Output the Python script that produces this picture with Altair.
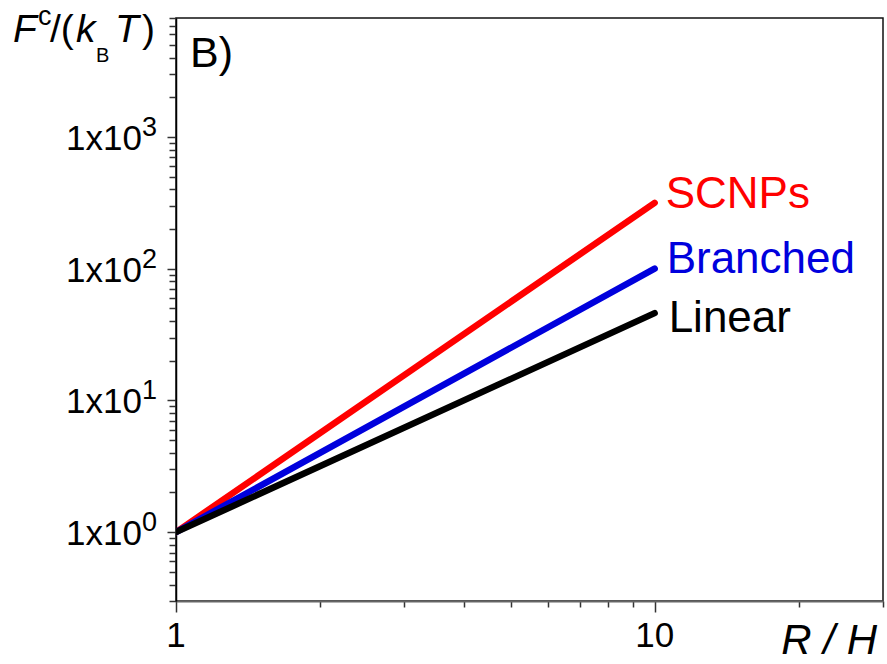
import altair as alt
import pandas as pd

FONT = "Liberation Sans"

# ---- data ----
x_vals = [1, 10]
scnps_vals = [1, 316]
branched_vals = [1, 100]
linear_vals = [1, 46]
series_names = ["SCNPs", "Branched", "Linear"]
series_colors = ["#ff0000", "#0000dd", "#000000"]

x_tick_vals = [1, 2, 3, 4, 5, 6, 7, 8, 9, 10, 20, 30]
x_label_vals = [1, 10]
x_label_text = ["1", "10"]

y_tick_vals = [0.3, 0.4, 0.5, 0.6, 0.7, 0.8, 0.9,
               1, 2, 3, 4, 5, 6, 7, 8, 9,
               10, 20, 30, 40, 50, 60, 70, 80, 90,
               100, 200, 300, 400, 500, 600, 700, 800, 900,
               1000, 2000, 3000, 4000, 5000, 6000, 7000, 8000]
y_label_vals = [1, 10, 100, 1000]
y_label_exp = ["0", "1", "2", "3"]

# ---- tables ----
rows = []
for name, vals in zip(series_names, [scnps_vals, branched_vals, linear_vals]):
    for xv, yv in zip(x_vals, vals):
        rows.append({"series": name, "x": xv, "y": yv})
df = pd.DataFrame(rows)

ylab_df = pd.DataFrame({"v": y_label_vals, "e": y_label_exp})
xlab_df = pd.DataFrame({"v": x_label_vals, "t": x_label_text})

x_scale = alt.Scale(type="log", domain=[1, 30], nice=False)
y_scale = alt.Scale(type="log", domain=[0.3, 8000], nice=False)

x_axis = alt.Axis(values=x_tick_vals, labels=False, title=None, grid=False,
                  tickColor="#333333", tickWidth=1.5,
                  tickSize={"condition": {"test": "datum.value == 1 || datum.value == 10", "value": 11}, "value": 6},
                  domainColor="#666666", domainWidth=2)
y_axis = alt.Axis(values=y_tick_vals, labels=False, title=None, grid=False,
                  tickColor="#333333", tickWidth=1.5,
                  tickSize={"condition": {"test": "datum.value == 1 || datum.value == 10 || datum.value == 100 || datum.value == 1000", "value": 9}, "value": 7},
                  domainColor="#000000", domainWidth=1.5)

X = alt.X("x:Q", scale=x_scale, axis=x_axis)
Y = alt.Y("y:Q", scale=y_scale, axis=y_axis)

layers = []
# lines: red, blue, then black on top
for name, col in zip(series_names, series_colors):
    layers.append(
        alt.Chart(df).transform_filter(alt.datum.series == name)
        .mark_line(strokeWidth=6.5, color=col, clip=True, strokeCap="round")
        .encode(x=X, y=Y)
    )

# series labels anchored at line ends
label_offsets = {"SCNPs": (11, 5), "Branched": (12, 4), "Linear": (14, 19)}
for name, col in zip(series_names, series_colors):
    dx, dy = label_offsets[name]
    layers.append(
        alt.Chart(df).transform_filter((alt.datum.series == name) & (alt.datum.x == 10))
        .mark_text(align="left", baseline="alphabetic", font=FONT, fontSize=44,
                   color=col, dx=dx, dy=dy)
        .encode(x=X, y=Y, text="series:N")
    )

# y tick labels 1x10^n
layers.append(
    alt.Chart(ylab_df).mark_text(text="1x10", align="right", baseline="alphabetic",
                                 font=FONT, fontSize=35, dy=13, color="black")
    .encode(x=alt.value(-34), y=alt.Y("v:Q", scale=y_scale, axis=y_axis))
)
layers.append(
    alt.Chart(ylab_df).mark_text(align="left", baseline="alphabetic",
                                 font=FONT, fontSize=27, dy=-1, color="black")
    .encode(x=alt.value(-34), y=alt.Y("v:Q", scale=y_scale, axis=y_axis), text="e:N")
)

# x tick labels
layers.append(
    alt.Chart(xlab_df).mark_text(align="center", baseline="alphabetic",
                                 font=FONT, fontSize=35, color="black")
    .encode(x=alt.X("v:Q", scale=x_scale, axis=x_axis), y=alt.value(629), text="t:N")
)


def txt(s, x, y, size, italic=False, align="left"):
    return (alt.Chart(pd.DataFrame({"t": [s]}))
            .mark_text(text=s, font=FONT, fontSize=size,
                       fontStyle="italic" if italic else "normal",
                       align=align, baseline="alphabetic", color="black")
            .encode(x=alt.value(x), y=alt.value(y)))


# axis titles and panel letter
layers += [
    txt("F", -163, 24, 39, italic=True),
    txt("c", -138, 7, 27),
    txt("/(", -126, 24, 39),
    txt("k", -100, 24, 39, italic=True),
    txt("B", -80, 44, 20),
    txt("T", -61, 24, 39, italic=True),
    txt(")", -34, 24, 39),
    txt("R / H", 701, 636, 42, italic=True, align="right"),
    txt("B)", 14, 49, 43),
]

chart = (alt.layer(*layers)
         .properties(width=707, height=583,
                     padding={"left": 176, "top": 18, "right": 4, "bottom": 63},
                     autosize=alt.AutoSizeParams(type="none"),
                     background="white")
         .configure_view(stroke="#111111", strokeWidth=1.5))

chart.save("out.html", embed_options={"renderer": "svg", "actions": False})
